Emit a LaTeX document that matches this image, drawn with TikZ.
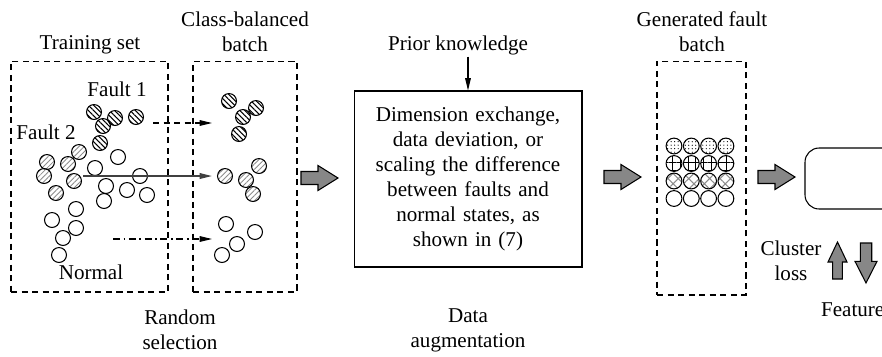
\documentclass[tikz,border=0pt]{standalone}
\usepackage{fontspec}
\newfontfamily\timesf{Liberation Serif}
\usetikzlibrary{arrows.meta,patterns.meta}

\begin{document}
\begin{tikzpicture}[x=0.02cm,y=-0.02cm,
	every node/.style={font=\timesf\fontsize{12}{14.2}\selectfont,inner sep=1pt},
	dashbox/.style={draw,dash pattern=on 3.5pt off 2.5pt,line width=0.6pt,inner sep=0pt},
	smp/.style={draw,line width=0.6pt},
	fone/.style={smp,pattern={Lines[angle=-45,distance=2.1pt,line width=0.6pt]}},
	ftwo/.style={smp,pattern={Lines[angle=45,distance=2.1pt,line width=0.5pt]},pattern color=black!45},
	gdots/.style={smp,pattern={Dots[distance=2pt,radius=0.35pt]}},
	ggrid/.style={smp,pattern={Hatch[angle=0,distance=4.4pt,line width=0.6pt]}},
	gcross/.style={smp,pattern={Hatch[angle=45,distance=4.2pt,line width=0.6pt]},pattern color=black!45},
	tip/.style={-{Triangle[length=7pt,width=3.2pt]},line width=0.6pt},
	barrow/.pic={\draw[fill=black!47,line width=0.6pt] (0,-6.5) -- (17,-6.5) -- (17,-12.5) -- (37,0) -- (17,12.5) -- (17,6.5) -- (0,6.5) -- cycle;}]
	\useasboundingbox (0,0) rectangle (882,356);
	\clip (0,0) rectangle (882,356);

	% boxes
	\node[dashbox,minimum width=3.14cm,minimum height=4.62cm] (train) at (89.5,176.5) {};
	\node[dashbox,minimum width=2.08cm,minimum height=4.62cm] (bal) at (245,176.5) {};
	\node[draw,line width=0.6pt,minimum width=4.56cm,minimum height=3.52cm,text width=4.4cm,align=center] (aug) at (468,179)
		{Dimension exchange,\\ data deviation, or\\ scaling the difference\\ between faults and\\ normal states, as\\ shown in (7)};
	\node[dashbox,minimum width=1.78cm,minimum height=4.68cm] (gen) at (701.5,178) {};
	\node[draw,line width=0.6pt,rounded corners=8pt,minimum width=2.4cm,minimum height=1.22cm] (net) at (865,178.5) {};

	% labels
	\node (lbltrain) at (90,45) {Training set};
	\node[align=center] (lblbal) at (245,32) {Class-balanced\\ batch};
	\node (lblf1) at (117,89) {Fault 1};
	\node (lblf2) at (46,132) {Fault 2};
	\node (lblnorm) at (91,272) {Normal};
	\node[align=center] (lblsel) at (180,330) {Random\\ selection};
	\node (pk) at (458,45) {Prior knowledge};
	\node[align=center] (lblaug) at (468,330) {Data\\ augmentation};
	\node[align=center] (lblgen) at (702,32) {Generated fault\\ batch};
	\node[align=center] (lblloss) at (791,261) {Cluster\\ loss};
	\node[anchor=west] (lblfeat) at (819,310) {Feature};

	% training set samples
	\foreach \x/\y in {94/112,115/118,136/117,103/126,100/143,229/101,256/108,243/117,239/134}
		\draw[fone] (\x,\y) circle[radius=4.25pt];
	\foreach \x/\y in {47/162,44/176,68/164,79/152,74/181,56/193,225/176,259/166,246/180,253/194}
		\draw[ftwo] (\x,\y) circle[radius=4.25pt];
	\foreach \x/\y in {118/157,95/168,140/176,106/186,127/190,147/195,104/201,76/209,52/220,76/228,63/238,59/255,226/224,255/232,237/244,222/255}
		\draw[smp] (\x,\y) circle[radius=4.25pt];

	% selection arrows
	\coordinate (s1) at (153,123);
	\coordinate (e1) at (212,123);
	\coordinate (s2) at (83,176);
	\coordinate (e2) at (212,176);
	\coordinate (s3) at (113,239);
	\coordinate (e3) at (212,239);
	\draw[tip,dash pattern=on 3.5pt off 2.5pt] (s1) -- (e1);
	\draw[tip,black!75,line width=0.8pt] (s2) -- (e2);
	\draw[tip,dash pattern=on 4pt off 2pt on 1pt off 2pt] (s3) -- (e3);
	\draw[tip] (pk.south -| aug.north) -- (aug.north);

	% generated batch
	\foreach \c in {0,1,2,3} {
		\draw[gdots] (674+17.3*\c,146) circle[radius=4.5pt];
		\draw[ggrid] (674+17.3*\c,163.5) circle[radius=4.5pt];
		\draw[gcross] (674+17.3*\c,181) circle[radius=4.5pt];
		\draw[smp] (674+17.3*\c,198.5) circle[radius=4.5pt];
	}

	% block arrows
	\pic at (301,178) {barrow};
	\pic at (604,177) {barrow};
	\pic at (758,177) {barrow};
	\pic[rotate=90,yscale=0.76] at (837.5,279) {barrow};
	\pic[rotate=-90,xscale=1.08,yscale=0.88] at (866,243) {barrow};
\end{tikzpicture}
\end{document}
